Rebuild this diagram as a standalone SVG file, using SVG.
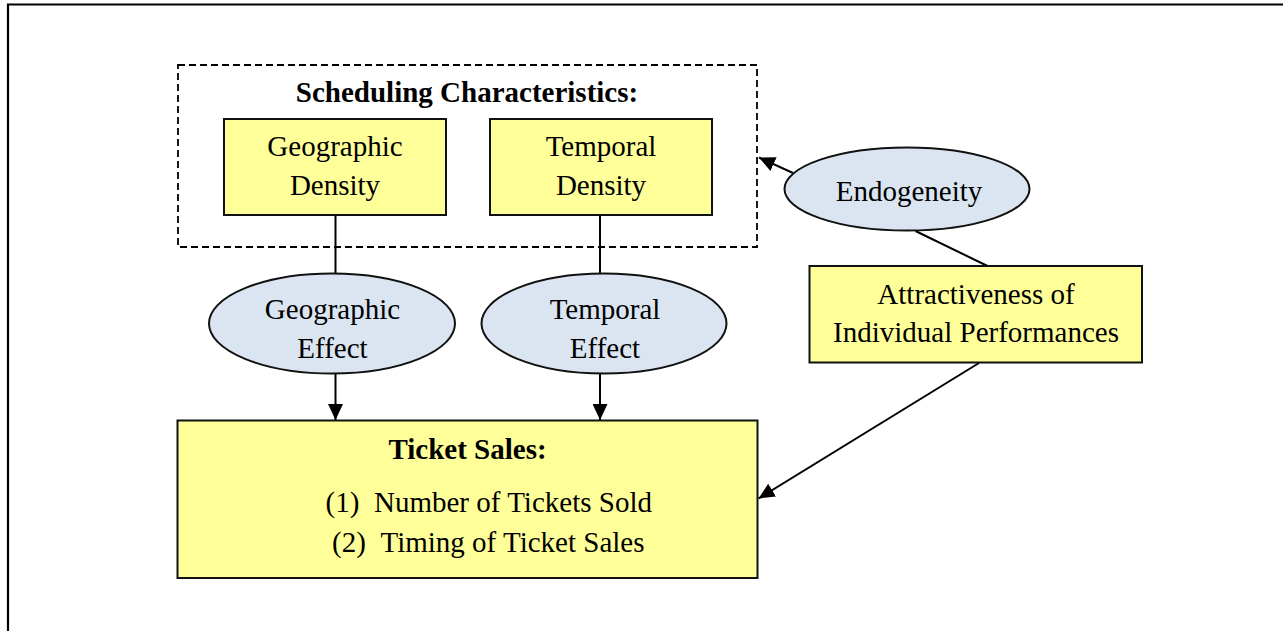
<svg xmlns="http://www.w3.org/2000/svg" width="1283" height="631" viewBox="0 0 1283 631">
<style>
  .box { fill: #FFFF99; stroke: #111; stroke-width: 2; }
  .ell { fill: #DBE5F1; stroke: #111; stroke-width: 2; }
  .t { font-family: "Liberation Serif", "Times New Roman", serif; font-size: 29px; fill: #000; text-anchor: middle; }
  .tl { font-family: "Liberation Serif", "Times New Roman", serif; font-size: 29px; fill: #000; }
  .b { font-weight: bold; }
  .conn { stroke: #000; stroke-width: 2; fill: none; }
</style>
<defs>
  <marker id="arr" markerUnits="userSpaceOnUse" markerWidth="16" markerHeight="15" refX="16" refY="7.5" orient="auto">
    <path d="M0,0 L16,7.5 L0,15 z" fill="#000"/>
  </marker>
</defs>
<rect x="0" y="0" width="1283" height="631" fill="#fff"/>
<g id="frame">
  <path d="M8,632 L8,4.5 L1284,4.5" fill="none" stroke="#000" stroke-width="2.2"/>
</g>
<g id="scheduling">
  <rect x="178" y="65" width="579" height="182" fill="none" stroke="#000" stroke-width="1.8" stroke-dasharray="7,4"/>
  <text class="t b" x="467" y="102">Scheduling Characteristics:</text>
</g>
<g id="connectors">
  <line class="conn" x1="335.5" y1="215" x2="335.5" y2="273"/>
  <line class="conn" x1="600" y1="215" x2="600" y2="273.5"/>
  <line class="conn" x1="335.5" y1="373" x2="335.5" y2="420" marker-end="url(#arr)"/>
  <line class="conn" x1="600" y1="374" x2="600" y2="420" marker-end="url(#arr)"/>
  <line class="conn" x1="793" y1="173" x2="759" y2="157.5" marker-end="url(#arr)"/>
  <line class="conn" x1="915.5" y1="231" x2="987.5" y2="266"/>
  <line class="conn" x1="979" y1="363" x2="758.5" y2="498.5" marker-end="url(#arr)"/>
</g>
<g id="geo-density">
  <rect class="box" x="224" y="119" width="222" height="96"/>
  <text class="t" x="335" y="156">Geographic</text>
  <text class="t" x="335" y="194.5">Density</text>
</g>
<g id="temp-density">
  <rect class="box" x="490" y="119" width="222" height="96"/>
  <text class="t" x="601" y="156">Temporal</text>
  <text class="t" x="601" y="194.5">Density</text>
</g>
<g id="geo-effect">
  <ellipse class="ell" cx="332" cy="323.5" rx="123" ry="50"/>
  <text class="t" x="332.5" y="318.5">Geographic</text>
  <text class="t" x="332.5" y="357.5">Effect</text>
</g>
<g id="temp-effect">
  <ellipse class="ell" cx="604" cy="323.5" rx="122.5" ry="50"/>
  <text class="t" x="605" y="318.5">Temporal</text>
  <text class="t" x="605" y="357.5">Effect</text>
</g>
<g id="endogeneity">
  <ellipse class="ell" cx="907" cy="189" rx="122.5" ry="41.5"/>
  <text class="t" x="909" y="201">Endogeneity</text>
</g>
<g id="attractiveness">
  <rect class="box" x="809.5" y="266" width="332.5" height="96.5"/>
  <text class="t" x="976" y="303.5">Attractiveness of</text>
  <text class="t" x="976" y="342">Individual Performances</text>
</g>
<g id="ticket-sales">
  <rect class="box" x="177.5" y="420.5" width="580" height="157.5"/>
  <text class="t b" x="467.5" y="458.5">Ticket Sales:</text>
  <text class="tl" y="511.5"><tspan x="325.5">(1)</tspan><tspan x="374">Number of Tickets Sold</tspan></text>
  <text class="tl" y="551.5"><tspan x="332">(2)</tspan><tspan x="380.5">Timing of Ticket Sales</tspan></text>
</g>
</svg>
